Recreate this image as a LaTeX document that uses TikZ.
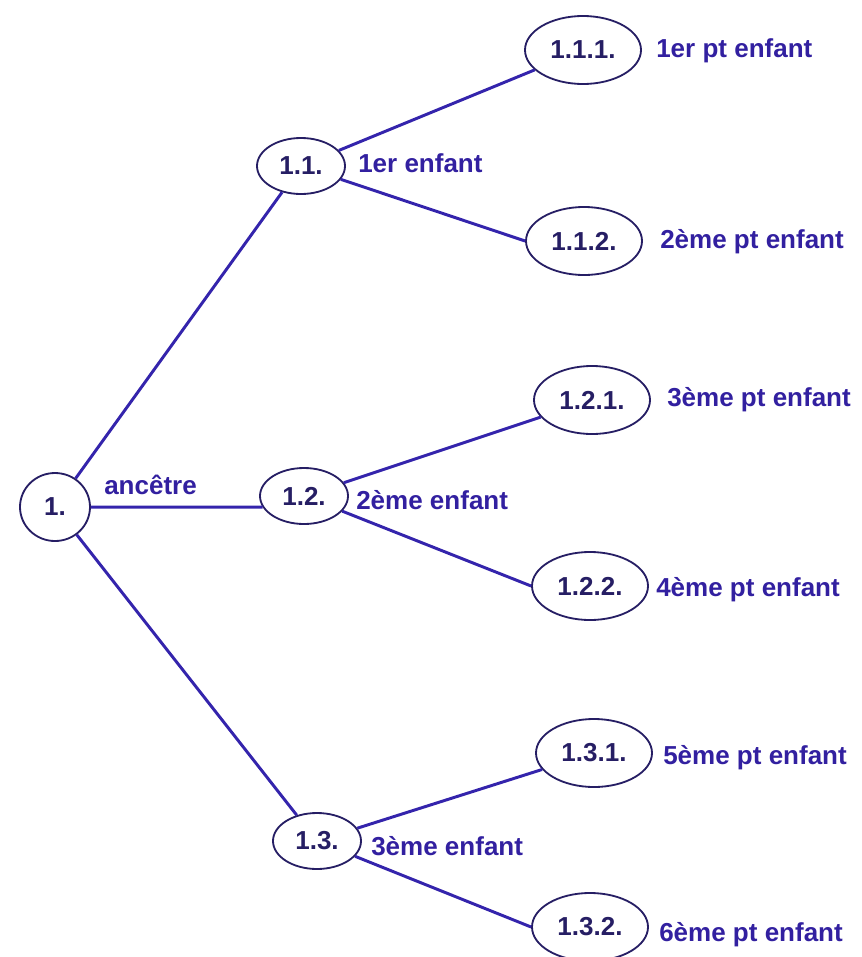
\documentclass[tikz,border=0pt]{standalone}
\usepackage{fontspec}
\setmainfont{Liberation Sans}
\usepackage{tikz}
\usetikzlibrary{calc}
\usetikzlibrary{shapes.geometric}
\definecolor{trait}{RGB}{52,36,172}
\definecolor{bord}{RGB}{38,30,100}
\definecolor{texte}{RGB}{50,32,160}
\tikzset{
	noeud/.style={draw=bord,line width=1.3pt,ellipse,inner sep=0pt,text=bord},
	racine/.style={noeud,minimum width=1.75cm,minimum height=1.7cm},
	fils/.style={noeud,minimum width=2.2cm,minimum height=1.4cm},
	petitfils/.style={noeud,minimum width=2.9cm,minimum height=1.7cm},
	etiq/.style={anchor=west,inner sep=0pt,text=texte,text height=0.72em,text depth=0.2em},
	lien/.style={draw=trait,line width=2.1pt}
}
\begin{document}
\begin{tikzpicture}[font=\fontsize{18.5}{22}\selectfont\bfseries]
	\useasboundingbox (0,0) rectangle (21.525,-23.925);
	\node[racine] (n1) at (1.375,-12.675) {1.};
	\node[fils] (n11) at (7.525,-4.15) {1.1.};
	\node[fils] (n12) at (7.6,-12.4) {1.2.};
	\node[fils] (n13) at (7.925,-21.025) {1.3.};
	\node[petitfils] (n111) at (14.575,-1.25) {1.1.1.};
	\node[petitfils] (n112) at (14.6,-6.025) {1.1.2.};
	\node[petitfils] (n121) at (14.8,-10.0) {1.2.1.};
	\node[petitfils] (n122) at (14.75,-14.65) {1.2.2.};
	\node[petitfils] (n131) at (14.85,-18.825) {1.3.1.};
	\node[petitfils] (n132) at (14.75,-23.175) {1.3.2.};
	\draw[lien] (n1)--(n11);
	\draw[lien] (n1)--(n12.195);
	\draw[lien] (n1)--(n13);
	\draw[lien] (n11)--(n111);
	\draw[lien] (n11)--(n112.west);
	\draw[lien] (n12)--(n121);
	\draw[lien] (n12)--(n122.west);
	\draw[lien] (n13)--(n131);
	\draw[lien] (n13)--(n132.west);
	\node[etiq] (l1) at (2.6,-12.275) {ancêtre};
	\node[etiq] (l11) at (8.95,-4.225) {1er enfant};
	\node[etiq] (l12) at (8.9,-12.65) {2ème enfant};
	\node[etiq] (l13) at (9.275,-21.3) {3ème enfant};
	\node[etiq] (l111) at (16.4,-1.35) {1er pt enfant};
	\node[etiq] (l112) at (16.5,-6.125) {2ème pt enfant};
	\node[etiq] (l121) at (16.675,-10.075) {3ème pt enfant};
	\node[etiq] (l122) at (16.4,-14.825) {4ème pt enfant};
	\node[etiq] (l131) at (16.575,-19.025) {5ème pt enfant};
	\node[etiq] (l132) at (16.475,-23.45) {6ème pt enfant};
\end{tikzpicture}
\end{document}
